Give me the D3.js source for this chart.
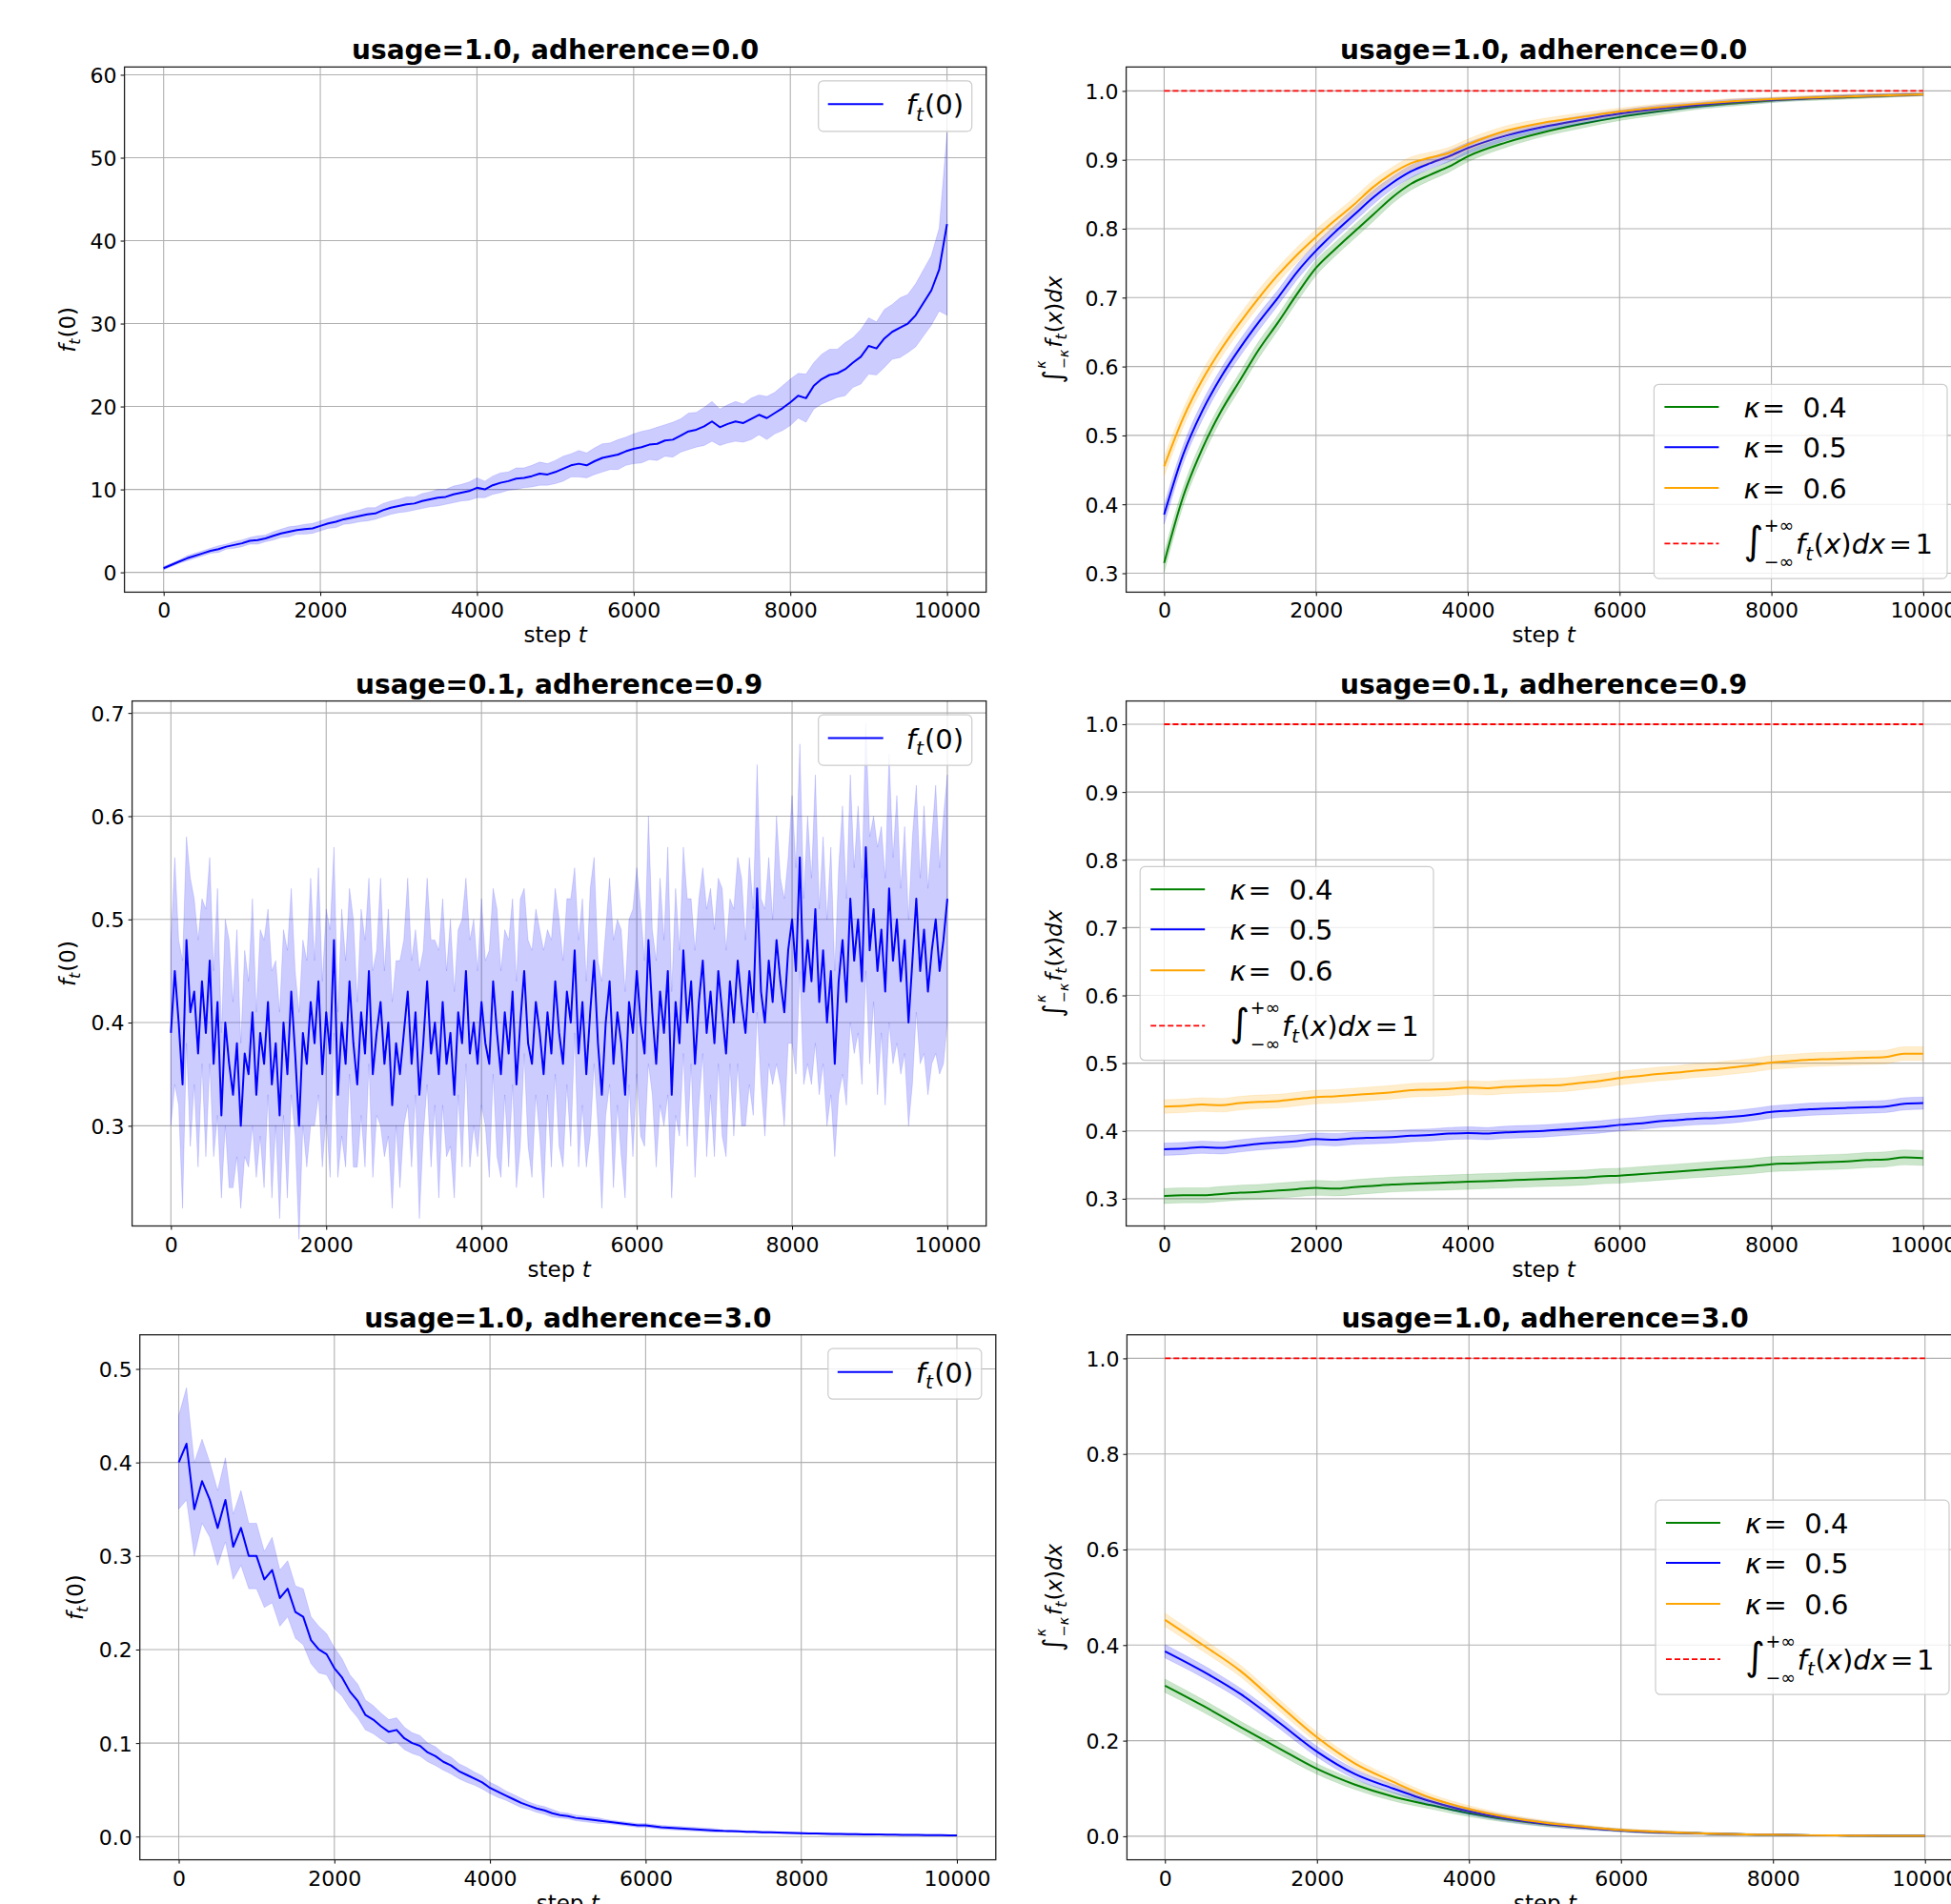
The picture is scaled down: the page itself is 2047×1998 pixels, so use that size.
<!DOCTYPE html>
<html>
<head>
<meta charset="utf-8">
<script src="https://cdn.jsdelivr.net/npm/d3@7"></script>
<style>
  body { margin: 0; background: #fff; overflow: hidden; }
  text { font-family: "DejaVu Sans", sans-serif; }
</style>
</head>
<body>
<svg id="chart" width="2047" height="1998"></svg>
<script>
// ---- data ----
var titles = ["usage=1.0, adherence=0.0", "usage=0.1, adherence=0.9", "usage=1.0, adherence=3.0"];
var kappas = ["0.4", "0.5", "0.6"];
var xTicks = [0, 2000, 4000, 6000, 8000, 10000];

// f_t(0), usage=1.0 adherence=0.0 (every 100 steps)
var t100 = d3.range(0, 10001, 100);
var ftMeanA = [
  0.5,0.9,1.3,1.7,2.0,2.3,2.6,2.8,3.1,3.3,
  3.5,3.8,3.9,4.1,4.4,4.7,4.9,5.1,5.2,5.3,
  5.6,5.9,6.1,6.4,6.6,6.8,7.0,7.1,7.5,7.8,
  8.0,8.2,8.3,8.6,8.8,9.0,9.1,9.4,9.6,9.8,
  10.2,10.0,10.5,10.8,11.0,11.3,11.4,11.6,11.9,11.8,
  12.1,12.5,12.9,13.1,12.9,13.4,13.8,14.0,14.2,14.6,
  14.9,15.1,15.4,15.5,15.9,16.0,16.5,17.0,17.2,17.6,
  18.2,17.5,17.9,18.2,18.0,18.5,19.0,18.6,19.2,19.8,
  20.5,21.3,21.0,22.5,23.3,23.8,24.0,24.5,25.3,26.0,
  27.3,27.0,28.2,29.0,29.5,30.0,31.0,32.5,34.0,36.5,
  42.0];
var ftSdA = [
  0.2,0.2,0.2,0.3,0.3,0.3,0.3,0.4,0.3,0.4,
  0.4,0.4,0.5,0.4,0.5,0.5,0.6,0.5,0.6,0.6,
  0.6,0.6,0.7,0.6,0.7,0.7,0.8,0.7,0.8,0.8,
  0.8,0.9,0.8,0.9,0.9,1.0,0.9,1.0,1.0,1.1,
  1.2,1.0,1.1,1.2,1.1,1.3,1.2,1.3,1.4,1.3,
  1.4,1.5,1.4,1.6,1.5,1.6,1.7,1.6,1.8,1.7,
  1.8,1.9,1.8,2.0,1.9,2.1,2.0,2.2,2.1,2.3,
  2.4,2.2,2.3,2.4,2.3,2.5,2.4,2.6,2.5,2.7,
  2.8,2.7,2.9,2.8,3.0,3.1,2.9,3.2,3.0,3.3,
  3.4,3.2,3.5,3.3,3.6,3.5,3.8,4.0,4.2,5.0,
  11.0];

// f_t(0), usage=0.1 adherence=0.9 (every 50 steps)
var t50 = d3.range(0, 10001, 50);
var ftMeanB = [
  0.39,0.45,0.40,0.34,0.48,0.41,0.43,0.37,0.44,0.39,0.46,0.36,0.42,0.31,0.40,0.36,0.33,0.38,0.30,0.37,
  0.35,0.41,0.33,0.39,0.36,0.42,0.34,0.38,0.31,0.40,0.35,0.43,0.37,0.30,0.39,0.36,0.42,0.38,0.44,0.35,
  0.41,0.37,0.48,0.33,0.40,0.36,0.44,0.38,0.34,0.41,0.37,0.45,0.35,0.39,0.42,0.36,0.40,0.32,0.38,0.35,
  0.39,0.43,0.36,0.41,0.33,0.38,0.44,0.37,0.40,0.35,0.42,0.36,0.39,0.33,0.41,0.38,0.45,0.37,0.40,0.36,
  0.42,0.38,0.36,0.44,0.39,0.35,0.41,0.37,0.43,0.34,0.40,0.45,0.38,0.36,0.42,0.39,0.35,0.41,0.37,0.44,
  0.39,0.36,0.43,0.40,0.47,0.37,0.42,0.35,0.41,0.46,0.38,0.33,0.40,0.44,0.36,0.41,0.38,0.33,0.42,0.39,
  0.45,0.40,0.37,0.48,0.41,0.36,0.43,0.39,0.45,0.33,0.42,0.38,0.47,0.40,0.44,0.36,0.42,0.46,0.39,0.43,
  0.38,0.45,0.41,0.37,0.44,0.40,0.46,0.42,0.39,0.45,0.41,0.53,0.43,0.40,0.46,0.42,0.48,0.44,0.41,0.47,
  0.50,0.45,0.56,0.43,0.48,0.44,0.51,0.42,0.47,0.40,0.45,0.36,0.44,0.48,0.42,0.52,0.46,0.50,0.44,0.57,
  0.47,0.51,0.45,0.49,0.43,0.53,0.46,0.50,0.44,0.48,0.40,0.46,0.52,0.45,0.49,0.43,0.47,0.50,0.45,0.48,
  0.52];
var ftSdB = [
  0.09,0.11,0.08,0.12,0.10,0.13,0.09,0.11,0.08,0.12,0.10,0.09,0.11,0.08,0.10,0.12,0.09,0.11,0.08,0.10,
  0.09,0.11,0.08,0.10,0.12,0.09,0.11,0.08,0.10,0.09,0.12,0.10,0.08,0.11,0.09,0.10,0.12,0.08,0.11,0.09,
  0.10,0.12,0.09,0.08,0.11,0.10,0.09,0.12,0.08,0.10,0.11,0.09,0.10,0.08,0.12,0.09,0.11,0.10,0.08,0.11,
  0.09,0.11,0.10,0.08,0.12,0.09,0.10,0.11,0.08,0.12,0.10,0.09,0.11,0.10,0.08,0.12,0.09,0.11,0.10,0.09,
  0.10,0.08,0.11,0.09,0.12,0.10,0.08,0.11,0.09,0.10,0.12,0.08,0.10,0.11,0.09,0.10,0.12,0.08,0.11,0.09,
  0.11,0.10,0.09,0.12,0.08,0.11,0.10,0.09,0.12,0.10,0.08,0.11,0.09,0.10,0.12,0.09,0.11,0.10,0.08,0.12,
  0.10,0.11,0.09,0.12,0.08,0.10,0.11,0.09,0.12,0.10,0.11,0.09,0.10,0.12,0.08,0.11,0.10,0.09,0.12,0.10,
  0.11,0.09,0.12,0.10,0.08,0.11,0.10,0.12,0.09,0.11,0.10,0.12,0.09,0.11,0.10,0.08,0.12,0.10,0.11,0.09,
  0.12,0.10,0.11,0.09,0.12,0.10,0.13,0.09,0.11,0.10,0.12,0.09,0.11,0.13,0.10,0.12,0.09,0.11,0.10,0.12,
  0.11,0.09,0.12,0.10,0.11,0.13,0.10,0.12,0.09,0.11,0.10,0.12,0.11,0.09,0.12,0.10,0.11,0.13,0.10,0.12,
  0.12];

// f_t(0), usage=1.0 adherence=3.0 (every 100 steps)
var ftMeanC = [
  0.40,0.42,0.35,0.38,0.36,0.33,0.36,0.31,0.33,0.30,
  0.30,0.275,0.285,0.255,0.265,0.24,0.235,0.21,0.20,0.195,
  0.18,0.17,0.155,0.145,0.13,0.125,0.118,0.112,0.114,0.105,
  0.10,0.097,0.09,0.086,0.08,0.076,0.07,0.066,0.062,0.058,
  0.052,0.048,0.044,0.04,0.036,0.033,0.03,0.028,0.025,0.023,
  0.022,0.02,0.019,0.018,0.017,0.016,0.015,0.014,0.013,0.012,
  0.012,0.011,0.010,0.0095,0.009,0.0085,0.008,0.0075,0.007,0.0065,
  0.006,0.0058,0.0055,0.0052,0.005,0.0047,0.0045,0.0043,0.004,0.0038,
  0.0036,0.0034,0.0032,0.003,0.0029,0.0027,0.0026,0.0025,0.0024,0.0023,
  0.0022,0.0021,0.002,0.0019,0.0018,0.0017,0.0016,0.0015,0.0015,0.0014,
  0.0013];
var ftSdC = [
  0.05,0.06,0.05,0.045,0.04,0.04,0.045,0.035,0.04,0.035,
  0.035,0.03,0.035,0.03,0.03,0.028,0.03,0.025,0.025,0.022,
  0.022,0.02,0.018,0.018,0.016,0.015,0.014,0.013,0.013,0.012,
  0.011,0.011,0.01,0.01,0.009,0.009,0.008,0.008,0.007,0.007,
  0.006,0.006,0.005,0.005,0.005,0.004,0.004,0.004,0.004,0.003,
  0.003,0.003,0.003,0.003,0.003,0.002,0.002,0.002,0.002,0.002,
  0.002,0.002,0.002,0.002,0.002,0.002,0.002,0.002,0.002,0.002,
  0.001,0.001,0.001,0.001,0.001,0.001,0.001,0.001,0.001,0.001,
  0.001,0.001,0.001,0.001,0.001,0.001,0.001,0.001,0.001,0.001,
  0.0005,0.0005,0.0005,0.0005,0.0005,0.0005,0.0005,0.0005,0.0005,0.0005,
  0.0005];

// integral over [-k, k], usage=1.0 adherence=0.0
var tKA = [0,250,500,750,1000,1250,1500,1750,2000,2250,2500,2750,3000,3250,3500,3750,4000,4500,5000,5500,6000,6500,7000,7500,8000,9000,10000];
var kGreenA  = [0.315,0.411,0.48,0.535,0.58,0.625,0.664,0.705,0.743,0.77,0.795,0.82,0.845,0.865,0.878,0.89,0.905,0.925,0.94,0.952,0.962,0.97,0.977,0.982,0.986,0.991,0.995];
var kBlueA   = [0.385,0.472,0.535,0.585,0.627,0.665,0.70,0.737,0.768,0.795,0.82,0.845,0.866,0.883,0.895,0.905,0.917,0.935,0.948,0.958,0.967,0.974,0.979,0.984,0.987,0.992,0.995];
var kOrangeA = [0.455,0.525,0.58,0.625,0.664,0.70,0.733,0.762,0.788,0.812,0.835,0.86,0.88,0.895,0.903,0.91,0.922,0.942,0.954,0.962,0.97,0.976,0.981,0.985,0.988,0.992,0.995];
var kSdA     = [0.014,0.013,0.013,0.012,0.012,0.012,0.011,0.011,0.011,0.010,0.010,0.010,0.009,0.009,0.008,0.008,0.008,0.007,0.006,0.006,0.005,0.005,0.004,0.004,0.003,0.003,0.002];

// integral over [-k, k], usage=0.1 adherence=0.9 (every 250 steps)
var tKB = d3.range(0, 10001, 250);
var kGreenB  = [0.304,0.305,0.305,0.307,0.309,0.310,0.312,0.314,0.316,0.315,0.317,0.319,0.321,0.322,0.323,0.324,0.325,0.326,0.327,0.328,0.329,0.330,0.331,0.333,0.334,0.336,0.338,0.340,0.342,0.344,0.346,0.348,0.351,0.352,0.353,0.354,0.355,0.357,0.358,0.361,0.360];
var kBlueB   = [0.373,0.374,0.376,0.375,0.378,0.381,0.383,0.385,0.388,0.387,0.389,0.390,0.391,0.393,0.394,0.396,0.397,0.396,0.398,0.399,0.400,0.402,0.404,0.406,0.409,0.411,0.414,0.416,0.418,0.419,0.421,0.424,0.428,0.430,0.432,0.433,0.434,0.435,0.436,0.440,0.441];
var kOrangeB = [0.436,0.437,0.439,0.438,0.441,0.443,0.444,0.447,0.450,0.451,0.453,0.455,0.457,0.460,0.461,0.462,0.464,0.463,0.465,0.466,0.467,0.468,0.471,0.474,0.478,0.481,0.484,0.486,0.489,0.491,0.494,0.497,0.501,0.503,0.505,0.506,0.507,0.508,0.509,0.514,0.514];
var kSdB     = [0.011, 0.009, 0.010];

// integral over [-k, k], usage=1.0 adherence=3.0 (every 500 steps)
var tKC = d3.range(0, 10001, 500);
var kGreenC  = [0.315,0.273,0.228,0.184,0.141,0.108,0.083,0.065,0.048,0.035,0.025,0.018,0.012,0.008,0.006,0.004,0.003,0.002,0.0015,0.001,0.001];
var kBlueC   = [0.387,0.345,0.297,0.238,0.177,0.13,0.10,0.073,0.052,0.037,0.026,0.018,0.012,0.008,0.006,0.004,0.003,0.002,0.0015,0.001,0.001];
var kOrangeC = [0.453,0.40,0.345,0.275,0.207,0.152,0.114,0.08,0.057,0.04,0.028,0.02,0.013,0.009,0.006,0.004,0.003,0.002,0.0015,0.001,0.001];
var kSdC     = [0.014,0.013,0.012,0.012,0.011,0.01,0.009,0.008,0.007,0.006,0.005,0.004,0.003,0.003,0.002,0.002,0.001,0.001,0.001,0.001,0.001];

// ---- drawing ----
var svg = d3.select("#chart");
var TICK = 22, TITLE = 28, LABEL = 23, LEG = 29;

// tiny mathtext helper: segments with italic / sub / sup / backspacing
function mathText(parent, size, segs) {
  var t = parent.append("text").attr("font-size", size).attr("fill", "#000");
  var cur = 0, prev = null;
  segs.forEach(function(s) {
    var off = (s.dy || 0) * size;
    var sp = t.append("tspan").attr("dy", off - cur).text(s.t);
    cur = off;
    if (s.size) sp.attr("font-size", s.size * size);
    if (s.it) sp.attr("font-style", "italic");
    var dx = (s.dx || 0) * size;
    if (s.back && prev) dx -= prev.node().getComputedTextLength();
    if (dx) sp.attr("dx", dx);
    prev = sp;
  });
  return t;
}

var ftSegs = [{t: "f", it: 1}, {t: "t", it: 1, size: 0.7, dy: 0.22}, {t: "(0)", dx: 0.04}];
var intYSegs = [
  {t: "\u222B", size: 1.2},
  {t: "\u03BA", it: 1, size: 0.62, dy: -0.72, dx: 0.06},
  {t: "\u2212\u03BA", it: 1, size: 0.62, dy: 0.3, back: 1},
  {t: "f", it: 1, dx: 0.08}, {t: "t", it: 1, size: 0.7, dy: 0.22},
  {t: "(", dx: 0.04}, {t: "x", it: 1}, {t: ")"}, {t: "dx", it: 1}];
var intLegSegs = [
  {t: "\u222B", size: 1.38},
  {t: "+\u221E", size: 0.65, dy: -0.8, dx: 0.02},
  {t: "\u2212\u221E", size: 0.65, dy: 0.52, back: 1},
  {t: "f", it: 1, dx: 0.06}, {t: "t", it: 1, size: 0.7, dy: 0.22},
  {t: "(", dx: 0.02}, {t: "x", it: 1}, {t: ")"}, {t: "dx", it: 1}, {t: "=", dx: 0.12}, {t: "1", dx: 0.12}];

function yLabel(segs, bx, cy) {
  var g = svg.append("g");
  var t = mathText(g, LABEL, segs);
  var w = t.node().getBBox().width;
  g.attr("transform", "translate(" + bx + "," + (cy + w / 2) + ") rotate(-90)");
}

function frame(L, yDom, yTicks, yFmt, title, labelSegs, labelX) {
  var x = d3.scaleLinear().domain([-500, 10500]).range([L.x0, L.x1]);
  var y = d3.scaleLinear().domain(yDom).range([L.y1, L.y0]);
  var g = svg.append("g");

  // grid
  g.selectAll(".gx").data(xTicks).join("line")
    .attr("x1", d => x(d)).attr("x2", d => x(d)).attr("y1", L.y0).attr("y2", L.y1)
    .attr("stroke", "#b0b0b0").attr("stroke-width", 1.1);
  g.selectAll(".gy").data(yTicks).join("line")
    .attr("x1", L.x0).attr("x2", L.x1).attr("y1", d => y(d)).attr("y2", d => y(d))
    .attr("stroke", "#b0b0b0").attr("stroke-width", 1.1);

  var xa = svg.append("g").attr("transform", "translate(0," + L.y1 + ")")
    .call(d3.axisBottom(x).tickValues(xTicks).tickFormat(d3.format("d")).tickSize(4).tickPadding(4));
  xa.select(".domain").remove();
  xa.attr("font-family", null).attr("font-size", TICK);
  xa.selectAll("text").attr("y", 27).attr("dy", null).attr("fill", "#000");

  var ya = svg.append("g").attr("transform", "translate(" + L.x0 + ",0)")
    .call(d3.axisLeft(y).tickValues(yTicks).tickFormat(yFmt).tickSize(4).tickPadding(4));
  ya.select(".domain").remove();
  ya.attr("font-family", null).attr("font-size", TICK);
  ya.selectAll("text").attr("dy", "0.36em").attr("fill", "#000");

  svg.append("text").attr("x", (L.x0 + L.x1) / 2).attr("y", L.y0 - 8)
    .attr("text-anchor", "middle").attr("font-size", TITLE).attr("font-weight", "bold").text(title);

  var xl = svg.append("text").attr("x", (L.x0 + L.x1) / 2).attr("y", L.y1 + 53)
    .attr("text-anchor", "middle").attr("font-size", LABEL);
  xl.append("tspan").text("step ");
  xl.append("tspan").attr("font-style", "italic").text("t");

  yLabel(labelSegs, labelX, (L.y0 + L.y1) / 2);
  return {g: g, x: x, y: y};
}

function spines(L) {
  svg.append("rect").attr("x", L.x0).attr("y", L.y0)
    .attr("width", L.x1 - L.x0).attr("height", L.y1 - L.y0)
    .attr("fill", "none").attr("stroke", "#222").attr("stroke-width", 1.3);
}

function series(ax, steps, mean, sd, color, curve) {
  var pts = steps.map(function(t, i) {
    var s = Array.isArray(sd) ? sd[i] : sd;
    return {t: t, m: mean[i], lo: mean[i] - s, hi: mean[i] + s};
  });
  curve = curve || d3.curveLinear;
  ax.g.append("path").datum(pts)
    .attr("d", d3.area().curve(curve).x(d => ax.x(d.t)).y0(d => ax.y(d.lo)).y1(d => ax.y(d.hi)))
    .attr("fill", color).attr("fill-opacity", 0.2).attr("stroke", color).attr("stroke-opacity", 0.12);
  ax.g.append("path").datum(pts)
    .attr("d", d3.line().curve(curve).x(d => ax.x(d.t)).y(d => ax.y(d.m)))
    .attr("fill", "none").attr("stroke", color).attr("stroke-width", 2).attr("stroke-linejoin", "round");
}

function legendBox(b) {
  svg.append("rect").attr("x", b.x).attr("y", b.y).attr("width", b.w).attr("height", b.h)
    .attr("rx", 5).attr("fill", "#fff").attr("fill-opacity", 0.8)
    .attr("stroke", "#cccccc").attr("stroke-width", 1.2);
}

function ftPanel(L, yDom, yTicks, yFmt, title, steps, mean, sd, labelX) {
  var ax = frame(L, yDom, yTicks, yFmt, title, ftSegs, labelX);
  series(ax, steps, mean, sd, "blue");
  spines(L);
  var b = {x: L.x1 - 176, y: L.y0 + 14.5, w: 161, h: 53};
  legendBox(b);
  var hy = b.y + 24.5;
  svg.append("line").attr("x1", b.x + 10).attr("x2", b.x + 68).attr("y1", hy).attr("y2", hy)
    .attr("stroke", "blue").attr("stroke-width", 2);
  mathText(svg, LEG, ftSegs).attr("x", b.x + 92).attr("y", hy + 11);
}

function kPanel(L, yDom, yTicks, title, steps, greens, blues, oranges, sds, b) {
  var ax = frame(L, yDom, yTicks, d3.format(".1f"), title, intYSegs, 1114);
  var cols = ["green", "blue", "orange"];
  var means = [greens, blues, oranges];
  means.forEach(function(m, i) {
    var sd = sds.length === steps.length ? sds : sds[i];
    series(ax, steps, m, sd, cols[i], d3.curveMonotoneX);
  });
  ax.g.append("line").attr("x1", ax.x(0)).attr("x2", ax.x(10000))
    .attr("y1", ax.y(1)).attr("y2", ax.y(1))
    .attr("stroke", "red").attr("stroke-width", 1.8).attr("stroke-dasharray", "6,3");
  spines(L);

  legendBox(b);
  var rows = [23.8, 65.9, 108.8, 167];
  kappas.forEach(function(k, i) {
    var hy = b.y + rows[i];
    svg.append("line").attr("x1", b.x + 11).attr("x2", b.x + 68).attr("y1", hy).attr("y2", hy)
      .attr("stroke", cols[i]).attr("stroke-width", 2);
    mathText(svg, LEG, [{t: "\u03BA", it: 1}, {t: "=", dx: 0.08}, {t: "\u00A0" + k, dx: 0.32}])
      .attr("x", b.x + 94).attr("y", hy + 11);
  });
  var hy = b.y + rows[3];
  svg.append("line").attr("x1", b.x + 11).attr("x2", b.x + 68).attr("y1", hy).attr("y2", hy)
    .attr("stroke", "red").attr("stroke-width", 1.8).attr("stroke-dasharray", "6,3");
  mathText(svg, LEG, intLegSegs).attr("x", b.x + 94).attr("y", hy + 11);
}

// left column
ftPanel({x0: 130.6, y0: 70.3, x1: 1034.7, y1: 621.4}, [-2.39, 60.94], d3.range(0, 61, 10), d3.format("d"),
  titles[0], t100, ftMeanA, ftSdA, 79);
ftPanel({x0: 138.6, y0: 735.6, x1: 1034.7, y1: 1286.5}, [0.2029, 0.7116], [0.3, 0.4, 0.5, 0.6, 0.7], d3.format(".1f"),
  titles[1], t50, ftMeanB, ftSdB, 79);
ftPanel({x0: 146.7, y0: 1400.7, x1: 1044.8, y1: 1951.6}, [-0.0248, 0.5365], [0, 0.1, 0.2, 0.3, 0.4, 0.5], d3.format(".1f"),
  titles[2], t100, ftMeanC, ftSdC, 87);

// right column
kPanel({x0: 1181.6, y0: 70.3, x1: 2057.7, y1: 621.4}, [0.2725, 1.0347], [0.3, 0.4, 0.5, 0.6, 0.7, 0.8, 0.9, 1.0],
  titles[0], tKA, kGreenA, kBlueA, kOrangeA, kSdA, {x: 1735.4, y: 403.3, w: 307.6, h: 203.8});
kPanel({x0: 1181.6, y0: 735.6, x1: 2057.7, y1: 1286.5}, [0.2598, 1.0343], [0.3, 0.4, 0.5, 0.6, 0.7, 0.8, 0.9, 1.0],
  titles[1], tKB, kGreenB, kBlueB, kOrangeB, kSdB, {x: 1196.2, y: 909.4, w: 307.8, h: 203.3});
kPanel({x0: 1182.4, y0: 1400.7, x1: 2059.6, y1: 1951.6}, [-0.0493, 1.0493], [0, 0.2, 0.4, 0.6, 0.8, 1.0],
  titles[2], tKC, kGreenC, kBlueC, kOrangeC, kSdC, {x: 1737, y: 1574.1, w: 308, h: 204.1});
</script>
</body>
</html>
